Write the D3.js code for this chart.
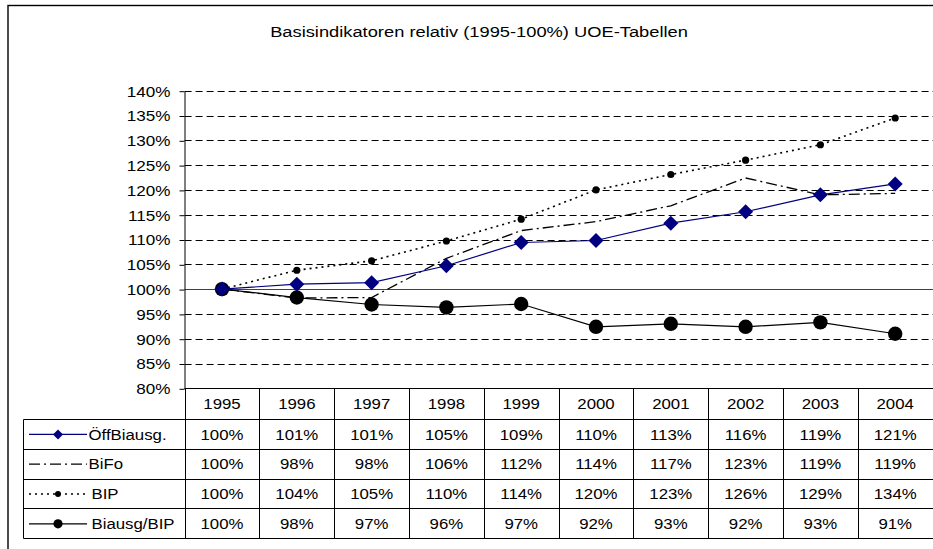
<!DOCTYPE html>
<html>
<head>
<meta charset="utf-8">
<script src="https://cdn.jsdelivr.net/npm/d3@7"></script>
<style>
  body { margin: 0; background: #fff; }
  svg { display: block; font-family: "Liberation Sans", Arial, sans-serif; }
</style>
</head>
<body>
<div id="chart"></div>
<script>
// Chart data (relative values, 1995 = 100%)
var years = ['1995', '1996', '1997', '1998', '1999', '2000', '2001', '2002', '2003', '2004'];
var seriesNames = ['ÖffBiausg.', 'BiFo', 'BIP', 'Biausg/BIP'];

var oeffBiausg = [100, 101.0, 101.3, 104.7, 109.4, 109.8, 113.3, 115.6, 119.0, 121.2];
var biFo = [100, 98.2, 98.3, 106.2, 111.8, 113.6, 116.8, 122.4, 119.0, 119.3];
var bip = [100, 103.8, 105.7, 109.7, 114.1, 120.0, 123.1, 126.0, 129.1, 134.5];
var biausgBip = [100, 98.3, 96.9, 96.3, 97.0, 92.4, 93.0, 92.4, 93.3, 91.0];

// Table labels as printed below the chart
var oeffBiausgLabels = ['100%', '101%', '101%', '105%', '109%', '110%', '113%', '116%', '119%', '121%'];
var biFoLabels = ['100%', '98%', '98%', '106%', '112%', '114%', '117%', '123%', '119%', '119%'];
var bipLabels = ['100%', '104%', '105%', '110%', '114%', '120%', '123%', '126%', '129%', '134%'];
var biausgBipLabels = ['100%', '98%', '97%', '96%', '97%', '92%', '93%', '92%', '93%', '91%'];

var yTicks = [80, 85, 90, 95, 100, 105, 110, 115, 120, 125, 130, 135, 140];

var svgWidth = 933;
var svgHeight = 549;

var svg = d3.select('#chart')
    .append('svg')
    .attr('width', svgWidth)
    .attr('height', svgHeight);

// stretched text helper (the original fonts are a bit wide)
function addText(g, x, y, str, size, anchor, sx) {
    return g.append('text')
        .attr('transform', `translate(${x}, ${y}) scale(${sx || 1.12}, 1)`)
        .attr('text-anchor', anchor || 'middle')
        .attr('dy', '0.35em')
        .attr('font-size', size)
        .attr('fill', '#000')
        .text(str);
}

// Outer frame (cropped on right and bottom)
svg.append('rect')
    .attr('x', 8)
    .attr('y', 5.5)
    .attr('width', 1000)
    .attr('height', 1000)
    .attr('fill', 'none')
    .attr('stroke', '#000')
    .attr('stroke-width', 1.4);

// Title
addText(svg, 479, 32, 'Basisindikatoren relativ (1995-100%) UOE-Tabellen', 15, 'middle', 1.22);

// Scales
var plotLeft = 184.6;
var colWidth = 74.8;
var xBand = d3.scaleBand()
    .domain(years)
    .range([plotLeft, plotLeft + colWidth * years.length]);

var yLinear = d3.scaleLinear()
    .domain([80, 140])
    .range([388.3, 90.7]);

var xc = d => xBand(d) + xBand.bandwidth() / 2;

// Gridlines
var grid = svg.append('g');
grid.selectAll('line')
    .data(yTicks.filter(d => d !== 80 && d !== 100))
    .enter()
    .append('line')
    .attr('x1', plotLeft)
    .attr('x2', svgWidth)
    .attr('y1', d => Math.round(yLinear(d)) + 0.5)
    .attr('y2', d => Math.round(yLinear(d)) + 0.5)
    .attr('stroke', '#000')
    .attr('stroke-width', 1)
    .attr('stroke-dasharray', '7,4');

// 100% base line (category axis crosses here)
svg.append('line')
    .attr('x1', plotLeft)
    .attr('x2', svgWidth)
    .attr('y1', Math.round(yLinear(100)) + 0.5)
    .attr('y2', Math.round(yLinear(100)) + 0.5)
    .attr('stroke', '#404040')
    .attr('stroke-width', 1);

// Y axis
var leftAxis = d3.axisLeft(yLinear)
    .tickValues(yTicks)
    .tickSize(5)
    .tickSizeOuter(0)
    .tickFormat(d => d + '%');

var yAxisG = svg.append('g')
    .attr('transform', 'translate(184.5, 0.5)')
    .call(leftAxis);
yAxisG.select('.domain').attr('stroke', '#000');
yAxisG.selectAll('.tick line').attr('stroke', '#000');
yAxisG.selectAll('.tick text')
    .attr('x', null)
    .attr('font-size', 15)
    .attr('font-family', '"Liberation Sans", Arial, sans-serif')
    .attr('fill', '#000')
    .attr('transform', 'translate(-14, 0) scale(1.14, 1)');

// Table
var table = svg.append('g');
var tableTop = 388.5;
var headerH = 30.5;
var rowH = 29.8;
var rowY = i => tableTop + headerH + i * rowH;
var legendLeft = 23.5;

// horizontal rules
table.append('line')
    .attr('x1', plotLeft).attr('x2', svgWidth)
    .attr('y1', tableTop).attr('y2', tableTop)
    .attr('stroke', '#000');
d3.range(seriesNames.length + 1).forEach(function(i) {
    var yy = Math.round(rowY(i)) + 0.5;
    table.append('line')
        .attr('x1', legendLeft).attr('x2', svgWidth)
        .attr('y1', yy).attr('y2', yy)
        .attr('stroke', '#000');
});

// vertical rules
table.selectAll('.col-line')
    .data(years)
    .enter()
    .append('line')
    .attr('class', 'col-line')
    .attr('x1', d => Math.round(xBand(d)) + 0.5)
    .attr('x2', d => Math.round(xBand(d)) + 0.5)
    .attr('y1', tableTop)
    .attr('y2', Math.round(rowY(seriesNames.length)) + 0.5)
    .attr('stroke', '#000');
table.append('line')
    .attr('x1', legendLeft).attr('x2', legendLeft)
    .attr('y1', Math.round(rowY(0)) + 0.5)
    .attr('y2', Math.round(rowY(seriesNames.length)) + 0.5)
    .attr('stroke', '#000');

// header years
years.forEach(function(yr) {
    addText(table, xc(yr), tableTop + headerH / 2, yr, 15);
});

// Series definitions
var series = [
    { name: seriesNames[0], values: oeffBiausg, labels: oeffBiausgLabels, color: '#000080', width: 1.2, dash: null, marker: 'diamond', size: 7.5, legendSize: 5 },
    { name: seriesNames[1], values: biFo, labels: biFoLabels, color: '#000', width: 1.3, dash: '11,4,2,4', marker: null },
    { name: seriesNames[2], values: bip, labels: bipLabels, color: '#000', width: 1.6, dash: '2,4', marker: 'dot', size: 3.6, legendSize: 3 },
    { name: seriesNames[3], values: biausgBip, labels: biausgBipLabels, color: '#000', width: 1.2, dash: null, marker: 'circle', size: 7.2, legendSize: 4.6 }
];

function drawMarker(g, s, x, y, r) {
    if (s.marker === 'diamond') {
        g.append('path')
            .attr('d', `M${x},${y - r}L${x + r},${y}L${x},${y + r}L${x - r},${y}Z`)
            .attr('fill', s.color);
    } else if (s.marker) {
        g.append('circle')
            .attr('cx', x).attr('cy', y).attr('r', r)
            .attr('fill', s.color);
    }
}

// Line generator
var line = d3.line()
    .x((d, i) => xc(years[i]))
    .y(d => yLinear(d));

var linesGroup = svg.append('g');
series.forEach(function(s) {
    linesGroup.append('path')
        .datum(s.values)
        .attr('d', line)
        .attr('fill', 'none')
        .attr('stroke', s.color)
        .attr('stroke-width', s.width)
        .attr('stroke-dasharray', s.dash);
});

// markers (drawn in reverse so the big circles sit under the diamonds)
[3, 2, 1, 0].forEach(function(k) {
    var s = series[k];
    s.values.forEach(function(v, i) {
        drawMarker(linesGroup, s, xc(years[i]), yLinear(v), s.size);
    });
});

// Table rows: legend key + values
series.forEach(function(s, i) {
    var cy = (rowY(i) + rowY(i + 1)) / 2 + 0.5;
    table.append('line')
        .attr('x1', 29).attr('x2', 87)
        .attr('y1', cy).attr('y2', cy)
        .attr('stroke', s.color)
        .attr('stroke-width', s.width)
        .attr('stroke-dasharray', s.dash);
    drawMarker(table, s, 58, cy, s.legendSize);
    addText(table, s.name === 'BIP' || s.name === 'Biausg/BIP' ? 91.5 : 88.5, cy, s.name, 15, 'start');

    s.labels.forEach(function(lbl, j) {
        addText(table, xc(years[j]), cy, lbl, 15);
    });
});
</script>
</body>
</html>
